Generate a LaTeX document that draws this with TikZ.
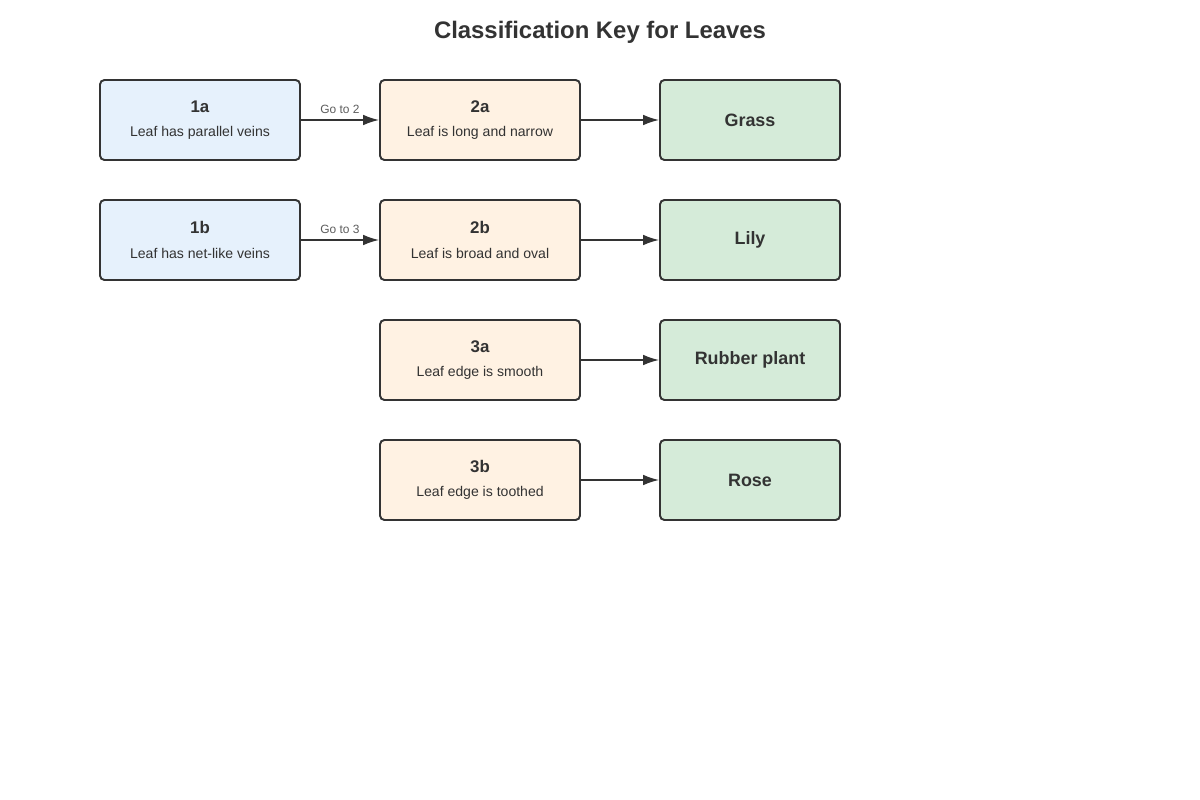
\documentclass[tikz,border=0pt]{standalone}
\usepackage{fontspec}
\setmainfont{Liberation Sans}
\usetikzlibrary{arrows.meta}
\definecolor{inkgray}{HTML}{333333}
\definecolor{keyblue}{HTML}{E6F1FC}
\definecolor{keyorange}{HTML}{FFF2E3}
\definecolor{keygreen}{HTML}{D5EBD9}
\tikzset{
  keybox/.style={draw=inkgray, line width=1.1pt, rounded corners=2.5pt,
    minimum width=4cm, minimum height=1.6cm, align=center, text=inkgray,
    font=\fontsize{8}{10}\selectfont},
  firstbox/.style={keybox, fill=keyblue},
  secondbox/.style={keybox, fill=keyorange},
  leafbox/.style={keybox, fill=keygreen, minimum width=3.6cm,
    font=\bfseries\fontsize{10.2}{12}\selectfont},
  keyarrow/.style={draw=inkgray, line width=0.9pt, -{Latex[length=9pt,width=6pt]}},
  goto/.style={font=\fontsize{6.8}{8}\selectfont, text=inkgray!80, above}
}
\newcommand{\keytext}[2]{{\bfseries\fontsize{9.6}{11}\selectfont #1}\\[4pt]#2}
\begin{document}
\begin{tikzpicture}[x=0.02cm, y=-0.02cm]
  \useasboundingbox (0,0) rectangle (1200,800);

  \node[font=\bfseries\fontsize{13.6}{16}\selectfont, text=inkgray] (title) at (600,32) {Classification Key for Leaves};

  \node[firstbox] (k1a) at (200,120) {\keytext{1a}{Leaf has parallel veins}};
  \node[firstbox] (k1b) at (200,240) {\keytext{1b}{Leaf has net-like veins}};

  \node[secondbox] (k2a) at (480,120) {\keytext{2a}{Leaf is long and narrow}};
  \node[secondbox] (k2b) at (480,240) {\keytext{2b}{Leaf is broad and oval}};
  \node[secondbox] (k3a) at (480,360) {\keytext{3a}{Leaf edge is smooth}};
  \node[secondbox] (k3b) at (480,480) {\keytext{3b}{Leaf edge is toothed}};

  \node[leafbox] (grass) at (750,120) {Grass};
  \node[leafbox] (lily) at (750,240) {Lily};
  \node[leafbox] (rubber) at (750,360) {Rubber plant};
  \node[leafbox] (rose) at (750,480) {Rose};

  \draw[keyarrow] (k1a) -- node[goto] {Go to 2} (k2a);
  \draw[keyarrow] (k1b) -- node[goto] {Go to 3} (k2b);
  \draw[keyarrow] (k2a) -- (grass);
  \draw[keyarrow] (k2b) -- (lily);
  \draw[keyarrow] (k3a) -- (rubber);
  \draw[keyarrow] (k3b) -- (rose);
\end{tikzpicture}
\end{document}
